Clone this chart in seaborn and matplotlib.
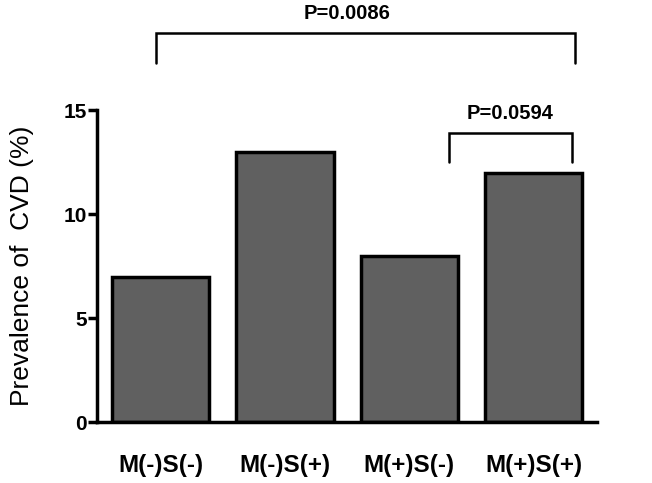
import matplotlib
matplotlib.use("Agg")
import matplotlib.pyplot as plt
import seaborn as sns
import pandas as pd

groups = ["M(-)S(-)", "M(-)S(+)", "M(+)S(-)", "M(+)S(+)"]
prevalence = [7, 13, 8, 12]
p_labels = ["P=0.0086", "P=0.0594"]

sns.set_theme(style="ticks")
plt.rcParams['font.family'] = ['Liberation Sans', 'DejaVu Sans']

df = pd.DataFrame({"group": groups, "prevalence": prevalence})

fig = plt.figure(figsize=(6.52, 4.83), dpi=100)
ax = fig.add_axes([0.149, 0.126, 0.767, 0.646])
sns.barplot(data=df, x="group", y="prevalence", ax=ax, color="#606060",
            saturation=1, width=0.78, edgecolor="black", linewidth=2.5)

ax.set_xlim(-0.51, 3.51)
ax.set_ylim(0, 15)
ax.set_yticks([0, 5, 10, 15])
sns.despine(ax=ax)
for s in ["left", "bottom"]:
    ax.spines[s].set_linewidth(2.5)
    ax.spines[s].set_color("black")
ax.tick_params(axis="y", length=6.5, width=2.5, color="black", labelsize=15, pad=1)
ax.tick_params(axis="x", length=0, pad=23, labelsize=17.5)
for lbl in ax.get_xticklabels() + ax.get_yticklabels():
    lbl.set_fontweight("bold")
    lbl.set_color("black")
ax.set_xlabel("")
ax.set_ylabel("Prevalence of  CVD (%)", fontsize=19, color="black", labelpad=21)

# significance brackets
def bracket(x0, x1, y_top, y_bot, text, tx, ty):
    ax.plot([x0, x0, x1, x1], [y_bot, y_top, y_top, y_bot], color="black",
            lw=1.8, clip_on=False, solid_joinstyle="miter")
    ax.text(tx, ty, text, ha="center", va="center",
            fontsize=14.5, fontweight="bold", color="black", clip_on=False)

bracket(-0.04, 3.33, 18.7, 17.25, p_labels[0], 1.50, 19.65)
bracket(2.32, 3.31, 13.9, 12.5, p_labels[1], 2.81, 14.85)

fig.savefig("out.png", dpi=100)
